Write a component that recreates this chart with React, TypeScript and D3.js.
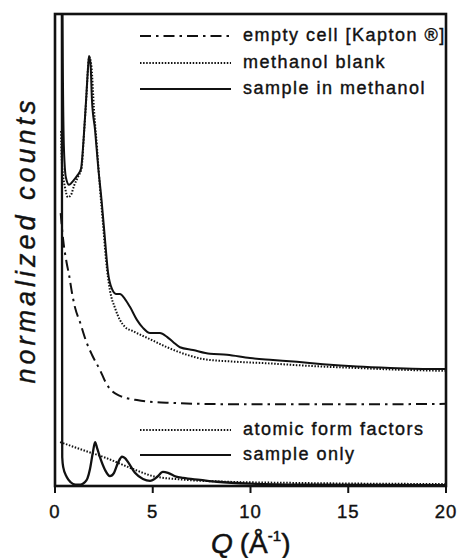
import React, { useEffect, useRef } from 'react';
import * as d3 from 'd3';

// [Q, normalized counts] (arbitrary units, 0..100 = plot height)
const sampleInMethanol: [number, number][] = [
  [0.37, 115], [0.4, 90], [0.46, 71.2], [0.56, 65.3], [0.72, 63.8], [0.92, 64.6], [1.13, 65.7],
  [1.33, 67.2], [1.46, 73.3], [1.59, 81.8], [1.69, 88.6], [1.74, 91.1], [1.82, 89.2],
  [1.89, 81.8], [2.05, 75.4], [2.2, 68.0], [2.38, 60.6], [2.56, 52.1], [2.71, 45.3],
  [2.92, 41.7], [3.12, 40.7], [3.32, 40.7], [3.58, 39.6], [3.84, 37.9], [4.19, 35.2],
  [4.5, 33.5], [4.86, 32.4], [5.37, 32.4], [5.73, 31.6], [6.04, 30.5], [6.39, 29.4],
  [7.06, 28.8], [7.93, 28.0], [8.8, 27.8], [9.97, 27.1], [11.15, 26.7], [12.38, 26.3],
  [13.71, 25.8], [15.45, 25.3], [17.14, 25.0], [18.82, 24.8], [20, 24.8],
];

const methanolBlank: [number, number][] = [
  [0.31, 75.2], [0.34, 69.7], [0.41, 65.9], [0.51, 63.3], [0.66, 61.2], [0.82, 61.7],
  [0.97, 63.6], [1.18, 65.5], [1.36, 67.4], [1.48, 74.4], [1.61, 82.8], [1.71, 89.8],
  [1.76, 90.9], [1.87, 88.6], [1.99, 80.1], [2.15, 71.6], [2.3, 63.1], [2.46, 55.3],
  [2.61, 47.9], [2.81, 41.5], [3.07, 37.7], [3.32, 35.2], [3.58, 33.7], [3.99, 32.8],
  [4.86, 31.1], [5.73, 29.4], [6.75, 27.8], [7.57, 26.9], [8.95, 26.4], [10.84, 26.0],
  [12.38, 25.6], [13.71, 25.3], [15.45, 25.0], [17.14, 24.7], [18.82, 24.5], [20, 24.4],
];

const emptyCell: [number, number][] = [
  [0.29, 57.8], [0.42, 52.1], [0.6, 47.2], [0.72, 44.7], [0.87, 40.9], [1.02, 37.9],
  [1.28, 34.7], [1.59, 30.7], [1.89, 27.8], [2.3, 24.6], [2.61, 21.8], [2.92, 20.1],
  [3.32, 19.1], [3.68, 18.6], [4.19, 18.2], [4.71, 17.9], [6.04, 17.6], [7.42, 17.4],
  [9.97, 17.3], [15, 17.3], [20, 17.4],
];

const atomicFormFactors: [number, number][] = [
  [0.26, 9.3], [1.44, 7.6], [2.64, 5.9], [3.99, 3.6], [5.01, 2.1], [6.39, 1.4],
  [8.44, 0.95], [12.53, 0.64], [20, 0.42],
];

const sampleOnly: [number, number][] = [
  [0.35, 115], [0.36, 40], [0.37, 6.1], [0.42, 4.0], [0.6, 1.9], [0.8, 0.8], [1.05, 0.3],
  [1.3, 0.3], [1.5, 0.7], [1.66, 1.6], [1.79, 3.6], [1.94, 7.2], [2.05, 9.3], [2.15, 8.1],
  [2.3, 6.1], [2.56, 3.4], [2.81, 2.1], [3.02, 2.8], [3.22, 4.9], [3.43, 6.2], [3.58, 5.9],
  [3.73, 5.1], [4.09, 2.8], [4.5, 1.5], [4.86, 1.1], [5.22, 1.9], [5.52, 3.0], [5.78, 2.8],
  [6.19, 2.0], [6.55, 1.7], [7.42, 1.3], [8.29, 0.9], [9.97, 0.5], [12.53, 0.3], [20, 0.2],
];

const xTicks = [0, 5, 10, 15, 20];
const legendTop = ['empty cell [Kapton ®]', 'methanol blank', 'sample in methanol'];
const legendBottom = ['atomic form factors', 'sample only'];

const SOLID = '';
const DOTTED = '1.5 1.6';
const DASHDOT = '11 5 2.5 5';
const FONT = 'Liberation Sans, Arial, Helvetica, sans-serif';
const INK = '#111';

const W = 458;
const H = 558;

const App: React.FC = () => {
  const svgRef = useRef<SVGSVGElement | null>(null);

  useEffect(() => {
    if (!svgRef.current) return;
    const svg = d3.select(svgRef.current);
    svg.selectAll('*').remove();

    const left = 55, right = 446, top = 14, bottom = 486;
    const x = d3.scaleLinear().domain([0, 20]).range([left, right]);
    const y = d3.scaleLinear().domain([0, 100]).range([bottom, top]);

    svg.append('rect').attr('width', W).attr('height', H).attr('fill', '#fff');

    svg.append('defs').append('clipPath').attr('id', 'plot-clip')
      .append('rect').attr('x', left).attr('y', top).attr('width', right - left).attr('height', bottom - top);

    const line = d3.line<[number, number]>()
      .x((d) => x(d[0]))
      .y((d) => y(d[1]))
      .curve(d3.curveMonotoneX);

    const series: { data: [number, number][]; dash: string; w: number }[] = [
      { data: emptyCell, dash: DASHDOT, w: 2 },
      { data: methanolBlank, dash: DOTTED, w: 2 },
      { data: sampleInMethanol, dash: SOLID, w: 2 },
      { data: atomicFormFactors, dash: DOTTED, w: 2 },
      { data: sampleOnly, dash: SOLID, w: 2.3 },
    ];

    const g = svg.append('g').attr('clip-path', 'url(#plot-clip)');
    series.forEach((s) => {
      g.append('path')
        .datum(s.data)
        .attr('d', line)
        .attr('fill', 'none')
        .attr('stroke', INK)
        .attr('stroke-width', s.w)
        .attr('stroke-dasharray', s.dash || null);
    });

    // frame
    svg.append('rect')
      .attr('x', left).attr('y', top)
      .attr('width', right - left).attr('height', bottom - top)
      .attr('fill', 'none').attr('stroke', INK).attr('stroke-width', 2.6);

    // x axis ticks + labels
    const ax = svg.append('g');
    xTicks.forEach((t) => {
      ax.append('line')
        .attr('x1', x(t)).attr('x2', x(t))
        .attr('y1', bottom).attr('y2', bottom + 7)
        .attr('stroke', INK).attr('stroke-width', 2);
      ax.append('text')
        .attr('x', x(t)).attr('y', 518)
        .attr('text-anchor', 'middle')
        .attr('font-family', FONT)
        .attr('font-size', 18.5)
        .attr('letter-spacing', 1)
        .attr('fill', INK)
        .attr('stroke', INK).attr('stroke-width', 0.4)
        .text(t);
    });

    // x axis title
    const title = svg.append('text')
      .attr('x', 211).attr('y', 553)
      .attr('font-family', FONT)
      .attr('font-size', 28)
      .attr('fill', INK)
      .attr('stroke', INK).attr('stroke-width', 0.5);
    title.append('tspan').attr('font-style', 'italic').text('Q');
    title.append('tspan').attr('dx', 7).text('(Å');
    title.append('tspan').attr('font-size', 15).attr('dy', -12).text('-1');
    title.append('tspan').attr('dy', 12).text(')');

    // y axis title
    svg.append('text')
      .attr('transform', `translate(35, 240) rotate(-90)`)
      .attr('text-anchor', 'middle')
      .attr('font-family', FONT)
      .attr('font-style', 'italic')
      .attr('font-size', 27)
      .attr('letter-spacing', 4)
      .attr('fill', INK)
      .attr('stroke', INK).attr('stroke-width', 0.4)
      .text('normalized counts');

    // legends
    const drawLegend = (labels: string[], dashes: string[], ys: number[]) => {
      labels.forEach((lab, i) => {
        svg.append('line')
          .attr('x1', 140).attr('x2', 231)
          .attr('y1', ys[i]).attr('y2', ys[i])
          .attr('stroke', INK).attr('stroke-width', 2)
          .attr('stroke-dasharray', dashes[i] || null);
        svg.append('text')
          .attr('x', 243).attr('y', ys[i] + 5)
          .attr('font-family', FONT)
          .attr('font-size', 18)
          .attr('letter-spacing', 1.5)
          .attr('fill', INK)
          .attr('stroke', INK).attr('stroke-width', 0.4)
          .text(lab);
      });
    };
    drawLegend(legendTop, [DASHDOT, DOTTED, SOLID], [36, 63, 89]);
    drawLegend(legendBottom, [DOTTED, SOLID], [430, 455]);
  }, []);

  return (
    <svg
      ref={svgRef}
      width={W}
      height={H}
      style={{ position: 'absolute', left: 0, top: 0, display: 'block' }}
    />
  );
};

export default App;
